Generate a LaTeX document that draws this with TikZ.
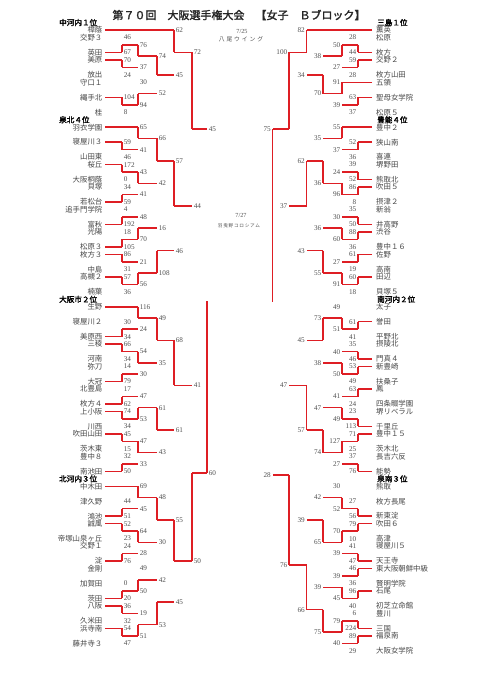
\documentclass[tikz,border=0pt]{standalone}
\usepackage{fontspec}
\setmainfont{Liberation Serif}
\newfontfamily\cjk{Noto Sans CJK JP}
\newfontfamily\cjkb[FakeBold=2]{Noto Sans CJK JP}
\usetikzlibrary{calc}
\pgfdeclarelayer{bg}
\pgfsetlayers{bg,main}
\definecolor{winred}{RGB}{222,30,36}
\definecolor{losegray}{RGB}{120,120,120}
\definecolor{namegray}{RGB}{70,70,70}
\definecolor{scoregray}{RGB}{80,80,80}
\newcommand\Yr[1]{30+7.48*(#1)}
\newcommand\seg[3]{\if W#1\draw[win] (#2) -- (#3);\else\begin{pgfonlayer}{bg}\draw[lose] (#2) -- (#3);\end{pgfonlayer}\fi}
\newcommand\lteam[5]{%
  \coordinate (#1s) at (105,{\Yr{#2}});
  \coordinate (#1) at (#4 |- #1s);
  \node[lname] (#1n) at (102.5,{\Yr{#2}}) {#3};
  \seg{#5}{#1s}{#1}}
\newcommand\rteam[5]{%
  \coordinate (#1s) at (372,{\Yr{#2}});
  \coordinate (#1) at (#4 |- #1s);
  \node[rname] (#1n) at (376,{\Yr{#2}}) {#3};
  \seg{#5}{#1s}{#1}}
\newcommand\lmatch[7]{%
  \coordinate (#1m) at ($(#2)!0.5!(#3)$);
  \coordinate (#1) at (#7 |- #1m);
  \node[score,anchor=west] (#1ts) at ([xshift=1.6pt]#2) {#4};
  \node[score,anchor=west] (#1bs) at ([xshift=1.6pt]#3) {#5};
  \if t#6\seg{W}{#2}{#1m}\seg{L}{#1m}{#3}\else\seg{L}{#2}{#1m}\seg{W}{#1m}{#3}\fi
  \seg{W}{#1m}{#1}}
\newcommand\rmatch[7]{%
  \coordinate (#1m) at ($(#2)!0.5!(#3)$);
  \coordinate (#1) at (#7 |- #1m);
  \node[score,anchor=east] (#1ts) at ([xshift=-1.6pt]#2) {#4};
  \node[score,anchor=east] (#1bs) at ([xshift=-1.6pt]#3) {#5};
  \if t#6\seg{W}{#2}{#1m}\seg{L}{#1m}{#3}\else\seg{L}{#2}{#1m}\seg{W}{#1m}{#3}\fi
  \seg{W}{#1m}{#1}}
\tikzset{
  win/.style={draw=winred,line width=1.5pt},
  lose/.style={draw=losegray,line width=0.8pt},
  lname/.style={font=\cjk\fontsize{7.4}{7.4}\selectfont,text=namegray,inner sep=0pt,anchor=east},
  rname/.style={font=\cjk\fontsize{7.4}{7.4}\selectfont,text=namegray,inner sep=0pt,anchor=west},
  score/.style={font=\fontsize{7.2}{7.2}\selectfont,text=scoregray,inner sep=0pt},
  hdr/.style={font=\cjkb\fontsize{7.6}{7.6}\selectfont,text=black,inner sep=0pt,anchor=west},
  info/.style={font=\fontsize{6.2}{6.2}\selectfont,text=scoregray,inner sep=0pt},
}
\begin{document}
\begin{tikzpicture}[x=1pt,y=-1pt]
\fill[white] (0,0) rectangle (481,680);
\useasboundingbox (0,0) rectangle (481,680);
\coordinate (XL1) at (122,0); \coordinate (XL2) at (138,0); \coordinate (XL3) at (157,0);
\coordinate (XL4) at (174,0); \coordinate (XL5) at (192,0); \coordinate (XL6) at (207,0);
\coordinate (XR1) at (358,0); \coordinate (XR2) at (342,0); \coordinate (XR3) at (323,0);
\coordinate (XR4) at (306.5,0); \coordinate (XR5) at (289,0); \coordinate (XR6) at (272.5,0);

\node[font=\cjkb\fontsize{11}{11}\selectfont,text=black!85,inner sep=0pt] (title) at (239,15) {第７０回　大阪選手権大会　【女子　Ｂブロック】};
\node[info] (d1) at (242,31) {7/25};
\node[font=\cjk\fontsize{5.8}{5.8}\selectfont,text=scoregray,inner sep=0pt] (v1) at (241,39) {八\,\,尾\,\,ウ\,\,イ\,\,ン\,\,グ};
\node[info] (d2) at (241,215) {7/27};
\node[font=\cjk\fontsize{4.6}{4.6}\selectfont,text=scoregray,inner sep=0pt] (v2) at (239,226) {羽\,曳\,野\,コ\,ロ\,シ\,ア\,ム};

% headers
\node[hdr] (hL1) at (59,{\Yr{-1}}) {中河内１位};
\node[hdr] (hL2) at (59,{\Yr{12}}) {泉北４位};
\node[hdr] (hL3) at (59,{\Yr{36}}) {大阪市２位};
\node[hdr] (hL4) at (59,{\Yr{60}}) {北河内３位};
\node[hdr] (hR1) at (377,{\Yr{-1}}) {三島１位};
\node[hdr] (hR2) at (377,{\Yr{12}}) {豊能４位};
\node[hdr] (hR3) at (377,{\Yr{36}}) {南河内２位};
\node[hdr] (hR4) at (377,{\Yr{60}}) {泉南３位};

% ---------- LEFT block 1
\lteam{a1}{0}{樟蔭}{XL4}{W}
\lteam{a2}{1}{交野３}{XL1}{L}
\lteam{a3}{3}{英田}{XL1}{W}
\lteam{a4}{4}{美原}{XL1}{W}
\lteam{a5}{6}{放出}{XL1}{L}
\lteam{a6}{7}{守口１}{XL2}{L}
\lteam{a7}{9}{縄手北}{XL1}{W}
\lteam{a8}{11}{桂}{XL1}{L}
\lmatch{ma1}{a2}{a3}{46}{67}{b}{XL2}
\lmatch{ma2}{a4}{a5}{70}{24}{t}{XL2}
\lmatch{ma3}{ma1}{ma2}{76}{37}{t}{XL3}
\lmatch{ma4}{a7}{a8}{104}{8}{t}{XL2}
\lmatch{ma5}{a6}{ma4}{30}{94}{b}{XL3}
\lmatch{ma6}{ma3}{ma5}{74}{52}{t}{XL4}
\lmatch{ma7}{a1}{ma6}{62}{45}{t}{XL5}
% LEFT block 2
\lteam{b1}{13}{羽衣学園}{XL2}{W}
\lteam{b2}{15}{寝屋川３}{XL1}{W}
\lteam{b3}{17}{山田東}{XL1}{L}
\lteam{b4}{18}{桜丘}{XL1}{W}
\lteam{b5}{20}{大阪桐蔭}{XL1}{L}
\lteam{b6}{21}{貝塚}{XL1}{L}
\lteam{b7}{23}{若松台}{XL1}{W}
\lteam{b8}{24}{追手門学院}{XL1}{L}
\lteam{b9}{26}{富秋}{XL1}{W}
\lteam{b10}{27}{光陽}{XL1}{L}
\lteam{b11}{29}{松原３}{XL1}{W}
\lteam{b12}{30}{枚方３}{XL1}{W}
\lteam{b13}{32}{中島}{XL1}{L}
\lteam{b14}{33}{高槻２}{XL1}{W}
\lteam{b15}{35}{楠葉}{XL1}{L}
\lmatch{mb1}{b2}{b3}{59}{46}{t}{XL2}
\lmatch{mb2}{b1}{mb1}{65}{41}{t}{XL3}
\lmatch{mb3}{b4}{b5}{172}{0}{t}{XL2}
\lmatch{mb4}{b6}{b7}{34}{59}{b}{XL2}
\lmatch{mb5}{mb3}{mb4}{43}{41}{t}{XL3}
\lmatch{mb6}{mb2}{mb5}{66}{42}{t}{XL4}
\lmatch{mb7}{b8}{b9}{4}{192}{b}{XL2}
\lmatch{mb8}{b10}{b11}{18}{105}{b}{XL2}
\lmatch{mb9}{mb7}{mb8}{48}{70}{b}{XL3}
\lmatch{mb10}{b12}{b13}{86}{31}{t}{XL2}
\lmatch{mb11}{b14}{b15}{57}{36}{t}{XL2}
\lmatch{mb12}{mb10}{mb11}{21}{56}{b}{XL3}
\lmatch{mb13}{mb9}{mb12}{16}{108}{b}{XL4}
\lmatch{mb14}{mb6}{mb13}{57}{46}{t}{XL5}
\lmatch{mab}{ma7}{mb14}{72}{44}{t}{XL6}
% LEFT block 3
\lteam{c1}{37}{生野}{XL2}{W}
\lteam{c2}{39}{寝屋川２}{XL1}{L}
\lteam{c3}{41}{美原西}{XL1}{W}
\lteam{c4}{42}{三稜}{XL1}{W}
\lteam{c5}{44}{河南}{XL1}{L}
\lteam{c6}{45}{弥刀}{XL1}{L}
\lteam{c7}{47}{大冠}{XL1}{W}
\lteam{c8}{48}{北豊島}{XL1}{L}
\lteam{c9}{50}{枚方４}{XL1}{W}
\lteam{c10}{51}{上小阪}{XL1}{W}
\lteam{c11}{53}{川西}{XL1}{L}
\lteam{c12}{54}{吹田山田}{XL1}{W}
\lteam{c13}{56}{茨木東}{XL1}{L}
\lteam{c14}{57}{豊中８}{XL1}{L}
\lteam{c15}{59}{南池田}{XL1}{W}
\lmatch{mc1}{c2}{c3}{30}{34}{b}{XL2}
\lmatch{mc2}{c1}{mc1}{116}{24}{t}{XL3}
\lmatch{mc3}{c4}{c5}{66}{34}{t}{XL2}
\lmatch{mc4}{c6}{c7}{14}{79}{b}{XL2}
\lmatch{mc5}{mc3}{mc4}{54}{30}{t}{XL3}
\lmatch{mc6}{mc2}{mc5}{49}{35}{t}{XL4}
\lmatch{mc7}{c8}{c9}{17}{62}{b}{XL2}
\lmatch{mc8}{c10}{c11}{74}{34}{t}{XL2}
\lmatch{mc9}{mc7}{mc8}{47}{53}{b}{XL3}
\lmatch{mc10}{c12}{c13}{45}{15}{t}{XL2}
\lmatch{mc11}{c14}{c15}{32}{50}{b}{XL2}
\lmatch{mc12}{mc10}{mc11}{47}{33}{t}{XL3}
\lmatch{mc13}{mc9}{mc12}{61}{43}{t}{XL4}
\lmatch{mc14}{mc6}{mc13}{68}{61}{t}{XL5}
% LEFT block 4
\lteam{d1}{61}{中木田}{XL2}{W}
\lteam{d2}{63}{津久野}{XL1}{L}
\lteam{d3}{65}{鴻池}{XL1}{W}
\lteam{d4}{66}{誠風}{XL1}{W}
\lteam{d5}{68}{帝塚山泉ヶ丘}{XL1}{L}
\lteam{d6}{69}{交野１}{XL1}{L}
\lteam{d7}{71}{淀}{XL1}{W}
\lteam{d8}{72}{金剛}{XL2}{L}
\lteam{d9}{74}{加賀田}{XL1}{L}
\lteam{d10}{76}{茨田}{XL1}{W}
\lteam{d11}{77}{八阪}{XL1}{W}
\lteam{d12}{79}{久米田}{XL1}{L}
\lteam{d13}{80}{浜寺南}{XL1}{W}
\lteam{d14}{82}{藤井寺３}{XL1}{L}
\lmatch{md1}{d2}{d3}{44}{51}{b}{XL2}
\lmatch{md2}{d1}{md1}{69}{45}{t}{XL3}
\lmatch{md3}{d4}{d5}{52}{23}{t}{XL2}
\lmatch{md4}{d6}{d7}{24}{76}{b}{XL2}
\lmatch{md5}{md3}{md4}{64}{28}{t}{XL3}
\lmatch{md6}{md2}{md5}{48}{30}{t}{XL4}
\lmatch{md7}{d9}{d10}{0}{20}{b}{XL2}
\lmatch{md8}{d8}{md7}{49}{50}{b}{XL3}
\lmatch{md9}{d11}{d12}{36}{32}{t}{XL2}
\lmatch{md10}{d13}{d14}{54}{47}{t}{XL2}
\lmatch{md11}{md9}{md10}{19}{51}{b}{XL3}
\lmatch{md12}{md8}{md11}{42}{53}{b}{XL4}
\lmatch{md13}{md6}{md12}{55}{45}{t}{XL5}
\lmatch{mcd}{mc14}{md13}{41}{50}{b}{XL6}

% ---------- RIGHT block 1
\rteam{e1}{0}{薫英}{XR4}{W}
\rteam{e2}{1}{松原}{XR1}{L}
\rteam{e3}{3}{枚方}{XR1}{W}
\rteam{e4}{4}{交野２}{XR1}{W}
\rteam{e5}{6}{枚方山田}{XR1}{L}
\rteam{e6}{7}{五領}{XR2}{W}
\rteam{e7}{9}{聖母女学院}{XR1}{W}
\rteam{e8}{11}{松原５}{XR1}{L}
\rmatch{me1}{e2}{e3}{28}{44}{b}{XR2}
\rmatch{me2}{e4}{e5}{59}{28}{t}{XR2}
\rmatch{me3}{me1}{me2}{50}{27}{t}{XR3}
\rmatch{me4}{e7}{e8}{63}{37}{t}{XR2}
\rmatch{me5}{e6}{me4}{91}{39}{t}{XR3}
\rmatch{me6}{me3}{me5}{38}{70}{b}{XR4}
\rmatch{me7}{e1}{me6}{82}{34}{t}{XR5}
% RIGHT block 2
\rteam{f1}{13}{豊中２}{XR2}{W}
\rteam{f2}{15}{狭山南}{XR1}{W}
\rteam{f3}{17}{喜連}{XR1}{L}
\rteam{f4}{18}{堺野田}{XR1}{L}
\rteam{f5}{20}{熊取北}{XR1}{W}
\rteam{f6}{21}{吹田５}{XR1}{W}
\rteam{f7}{23}{摂津２}{XR1}{L}
\rteam{f8}{24}{新翁}{XR1}{L}
\rteam{f9}{26}{井高野}{XR1}{W}
\rteam{f10}{27}{渋谷}{XR1}{W}
\rteam{f11}{29}{豊中１６}{XR1}{L}
\rteam{f12}{30}{佐野}{XR1}{W}
\rteam{f13}{32}{高南}{XR1}{L}
\rteam{f14}{33}{田辺}{XR1}{W}
\rteam{f15}{35}{貝塚５}{XR1}{L}
\rmatch{mf1}{f2}{f3}{52}{36}{t}{XR2}
\rmatch{mf2}{f1}{mf1}{55}{37}{t}{XR3}
\rmatch{mf3}{f4}{f5}{39}{52}{b}{XR2}
\rmatch{mf4}{f6}{f7}{86}{8}{t}{XR2}
\rmatch{mf5}{mf3}{mf4}{24}{96}{b}{XR3}
\rmatch{mf6}{mf2}{mf5}{35}{36}{b}{XR4}
\rmatch{mf7}{f8}{f9}{35}{50}{b}{XR2}
\rmatch{mf8}{f10}{f11}{88}{36}{t}{XR2}
\rmatch{mf9}{mf7}{mf8}{30}{60}{b}{XR3}
\rmatch{mf10}{f12}{f13}{61}{19}{t}{XR2}
\rmatch{mf11}{f14}{f15}{60}{18}{t}{XR2}
\rmatch{mf12}{mf10}{mf11}{27}{91}{b}{XR3}
\rmatch{mf13}{mf9}{mf12}{36}{55}{b}{XR4}
\rmatch{mf14}{mf6}{mf13}{62}{43}{t}{XR5}
\rmatch{mef}{me7}{mf14}{100}{37}{t}{XR6}
% RIGHT block 3
\rteam{g1}{37}{太子}{XR2}{L}
\rteam{g2}{39}{誉田}{XR1}{W}
\rteam{g3}{41}{平野北}{XR1}{L}
\rteam{g4}{42}{摂陵北}{XR1}{L}
\rteam{g5}{44}{門真４}{XR1}{W}
\rteam{g6}{45}{新豊崎}{XR1}{W}
\rteam{g7}{47}{扶桑子}{XR1}{L}
\rteam{g8}{48}{鳳}{XR1}{W}
\rteam{g9}{50}{四条畷学園}{XR1}{L}
\rteam{g10}{51}{堺リベラル}{XR1}{L}
\rteam{g11}{53}{千里丘}{XR1}{W}
\rteam{g12}{54}{豊中１５}{XR1}{W}
\rteam{g13}{56}{茨木北}{XR1}{L}
\rteam{g14}{57}{長吉六反}{XR1}{L}
\rteam{g15}{59}{能勢}{XR1}{W}
\rmatch{mg1}{g2}{g3}{61}{41}{t}{XR2}
\rmatch{mg2}{g1}{mg1}{49}{51}{b}{XR3}
\rmatch{mg3}{g4}{g5}{35}{46}{b}{XR2}
\rmatch{mg4}{g6}{g7}{53}{49}{t}{XR2}
\rmatch{mg5}{mg3}{mg4}{40}{50}{b}{XR3}
\rmatch{mg6}{mg2}{mg5}{73}{38}{t}{XR4}
\rmatch{mg7}{g8}{g9}{63}{24}{t}{XR2}
\rmatch{mg8}{g10}{g11}{23}{113}{b}{XR2}
\rmatch{mg9}{mg7}{mg8}{41}{49}{b}{XR3}
\rmatch{mg10}{g12}{g13}{71}{25}{t}{XR2}
\rmatch{mg11}{g14}{g15}{37}{76}{b}{XR2}
\rmatch{mg12}{mg10}{mg11}{127}{27}{t}{XR3}
\rmatch{mg13}{mg9}{mg12}{47}{74}{b}{XR4}
\rmatch{mg14}{mg6}{mg13}{45}{57}{b}{XR5}
% RIGHT block 4
\rteam{h1}{61}{熊取}{XR2}{L}
\rteam{h2}{63}{枚方長尾}{XR1}{L}
\rteam{h3}{65}{新東淀}{XR1}{W}
\rteam{h4}{66}{吹田６}{XR1}{W}
\rteam{h5}{68}{高津}{XR1}{L}
\rteam{h6}{69}{寝屋川５}{XR1}{L}
\rteam{h7}{71}{天王寺}{XR1}{W}
\rteam{h8}{72}{東大阪朝鮮中級}{XR1}{W}
\rteam{h9}{74}{賢明学院}{XR1}{L}
\rteam{h10}{75}{石尾}{XR1}{W}
\rteam{h11}{77}{初芝立命館}{XR1}{L}
\rteam{h12}{78}{豊川}{XR1}{L}
\rteam{h13}{80}{三国}{XR1}{W}
\rteam{h14}{81}{福泉南}{XR1}{W}
\rteam{h15}{83}{大阪女学院}{XR1}{L}
\rmatch{mh1}{h2}{h3}{27}{56}{b}{XR2}
\rmatch{mh2}{h1}{mh1}{30}{52}{b}{XR3}
\rmatch{mh3}{h4}{h5}{79}{10}{t}{XR2}
\rmatch{mh4}{h6}{h7}{41}{47}{b}{XR2}
\rmatch{mh5}{mh3}{mh4}{70}{39}{t}{XR3}
\rmatch{mh6}{mh2}{mh5}{42}{65}{b}{XR4}
\rmatch{mh7}{h8}{h9}{46}{36}{t}{XR2}
\rmatch{mh8}{h10}{h11}{96}{40}{t}{XR2}
\rmatch{mh9}{mh7}{mh8}{39}{45}{b}{XR3}
\rmatch{mh10}{h12}{h13}{6}{224}{b}{XR2}
\rmatch{mh11}{h14}{h15}{89}{29}{t}{XR2}
\rmatch{mh12}{mh10}{mh11}{79}{40}{t}{XR3}
\rmatch{mh13}{mh9}{mh12}{39}{75}{b}{XR4}
\rmatch{mh14}{mh6}{mh13}{39}{66}{b}{XR5}
\rmatch{mgh}{mg14}{mh14}{47}{76}{b}{XR6}

% ---------- semifinals and final
\coordinate (SL) at ($(mab)!0.5!(mcd)$);
\coordinate (SR) at ($(mef)!0.5!(mgh)$);
\node[score,anchor=west] (sl1) at ([xshift=1.6pt]mab) {45};
\node[score,anchor=west] (sl2) at ([xshift=1.6pt]mcd) {60};
\node[score,anchor=east] (sr1) at ([xshift=-1.6pt]mef) {75};
\node[score,anchor=east] (sr2) at ([xshift=-1.6pt]mgh) {28};
\seg{L}{mab}{SL}\seg{W}{SL}{mcd}
\seg{W}{mef}{SR}\seg{L}{SR}{mgh}
\coordinate (FC) at (240,0 |- SL);
\coordinate (FT) at (240,277);
\seg{L}{SL}{SR}
\seg{L}{FC}{FT}
\end{tikzpicture}
\end{document}
